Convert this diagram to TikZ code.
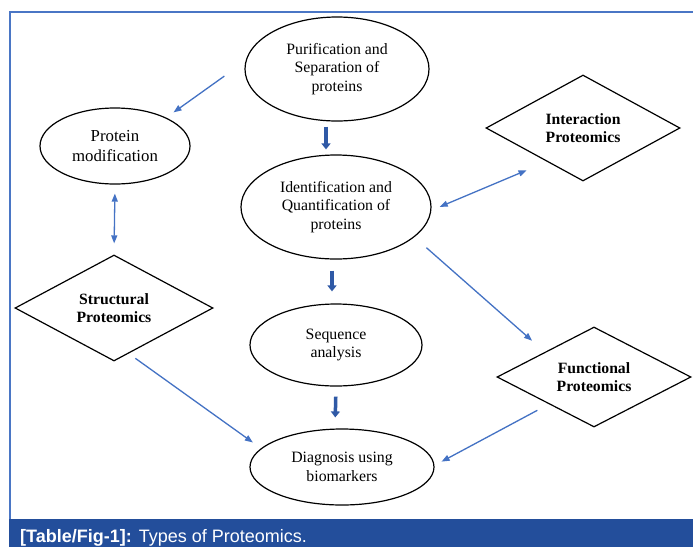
\documentclass[tikz,border=0pt]{standalone}
\usepackage{fontspec}
\setmainfont{Liberation Serif}
\newfontfamily\capfont{Liberation Sans}
\usetikzlibrary{arrows.meta,shapes.geometric}

\definecolor{frameblue}{HTML}{4A76C5}
\definecolor{linkblue}{HTML}{4472C4}
\definecolor{stemblue}{HTML}{2F59A6}
\definecolor{barblue}{HTML}{234E9B}

\begin{document}
\begin{tikzpicture}[x=1pt,y=-1pt,>={Triangle[length=8pt,width=6pt]},
	stage/.style={ellipse,draw,line width=1.2pt,align=center,inner sep=0pt,
		font=\fontsize{15.8}{18.7}\selectfont},
	kind/.style={diamond,draw,line width=1.2pt,align=center,inner sep=0pt,aspect=1.9,
		font=\bfseries\fontsize{15.7}{18.7}\selectfont},
	link/.style={linkblue,line width=1.3pt},
	stem/.style={stemblue,line width=3.5pt,-{Triangle[length=6pt,width=9pt]}}]
		
		% Page and frame
		\useasboundingbox (0,0) rectangle (693,547);
		\fill[white] (0,0) rectangle (693,547);
		\draw[frameblue,line width=2pt] (10,519) -- (10,12) -- (693,12);
		
		% Stages of the workflow
		\node[stage,minimum width=184pt,minimum height=104pt] (purif) at (337,69) {Purification and\\Separation of\\proteins};
		\node[stage,minimum width=150pt,minimum height=76pt,font=\fontsize{16.8}{20}\selectfont] (protmod) at (115,146) {Protein\\modification};
		\node[stage,minimum width=190pt,minimum height=104pt] (ident) at (336,207) {Identification and\\Quantification of\\proteins};
		\node[stage,minimum width=172pt,minimum height=82pt] (seq) at (336,345) {Sequence\\analysis};
		\node[stage,minimum width=184pt,minimum height=76pt] (diag) at (342,467) {Diagnosis using\\biomarkers};
		
		% Kinds of proteomics
		\node[kind,minimum width=194pt,minimum height=106pt] (interact) at (583,128) {Interaction\\Proteomics};
		\node[kind,minimum width=198pt,minimum height=106pt] (struct) at (114,308) {Structural\\Proteomics};
		\node[kind,minimum width=194pt,minimum height=100pt] (funct) at (594,377) {Functional\\Proteomics};
		
		% Main line, thick arrows
		\draw[stem,shorten <=5pt,shorten >=5pt] ([xshift=-11pt]purif.south) -- ([xshift=-10pt]ident.north);
		\draw[stem,shorten <=11pt,shorten >=12pt] ([xshift=-4pt]ident.south) -- ([xshift=-4pt]seq.north);
		\draw[stem,shorten <=10pt,shorten >=11pt] (seq.south) -- ([xshift=-7pt]diag.north);
		
		% Side links
		\draw[link,->,shorten <=26pt,shorten >=9pt] (purif.175) -- (protmod.29);
		\draw[link,<->,shorten <=9pt,shorten >=11pt] (protmod.south) -- (struct.north);
		\draw[link,<->,shorten <=9pt,shorten >=22pt] (ident.-2) -- (interact.223);
		\draw[link,->,shorten <=16pt,shorten >=17pt] (ident.-21) -- (funct.153);
		\draw[link,->,shorten <=8pt,shorten >=10pt] (struct.-72) -- (diag.167);
		\draw[link,->,shorten <=13pt,shorten >=8pt] (funct.211) -- (diag.1);
		
		% Caption bar
		\fill[barblue] (9,519) rectangle (693,547);
		\node[anchor=base west,inner sep=0pt,text=white,font=\capfont\fontsize{18}{21}\selectfont] (cap) at (20,542)
		{\textbf{[Table/Fig-1]:}\hspace{7pt}Types of Proteomics.};
		
	\end{tikzpicture}
\end{document}
